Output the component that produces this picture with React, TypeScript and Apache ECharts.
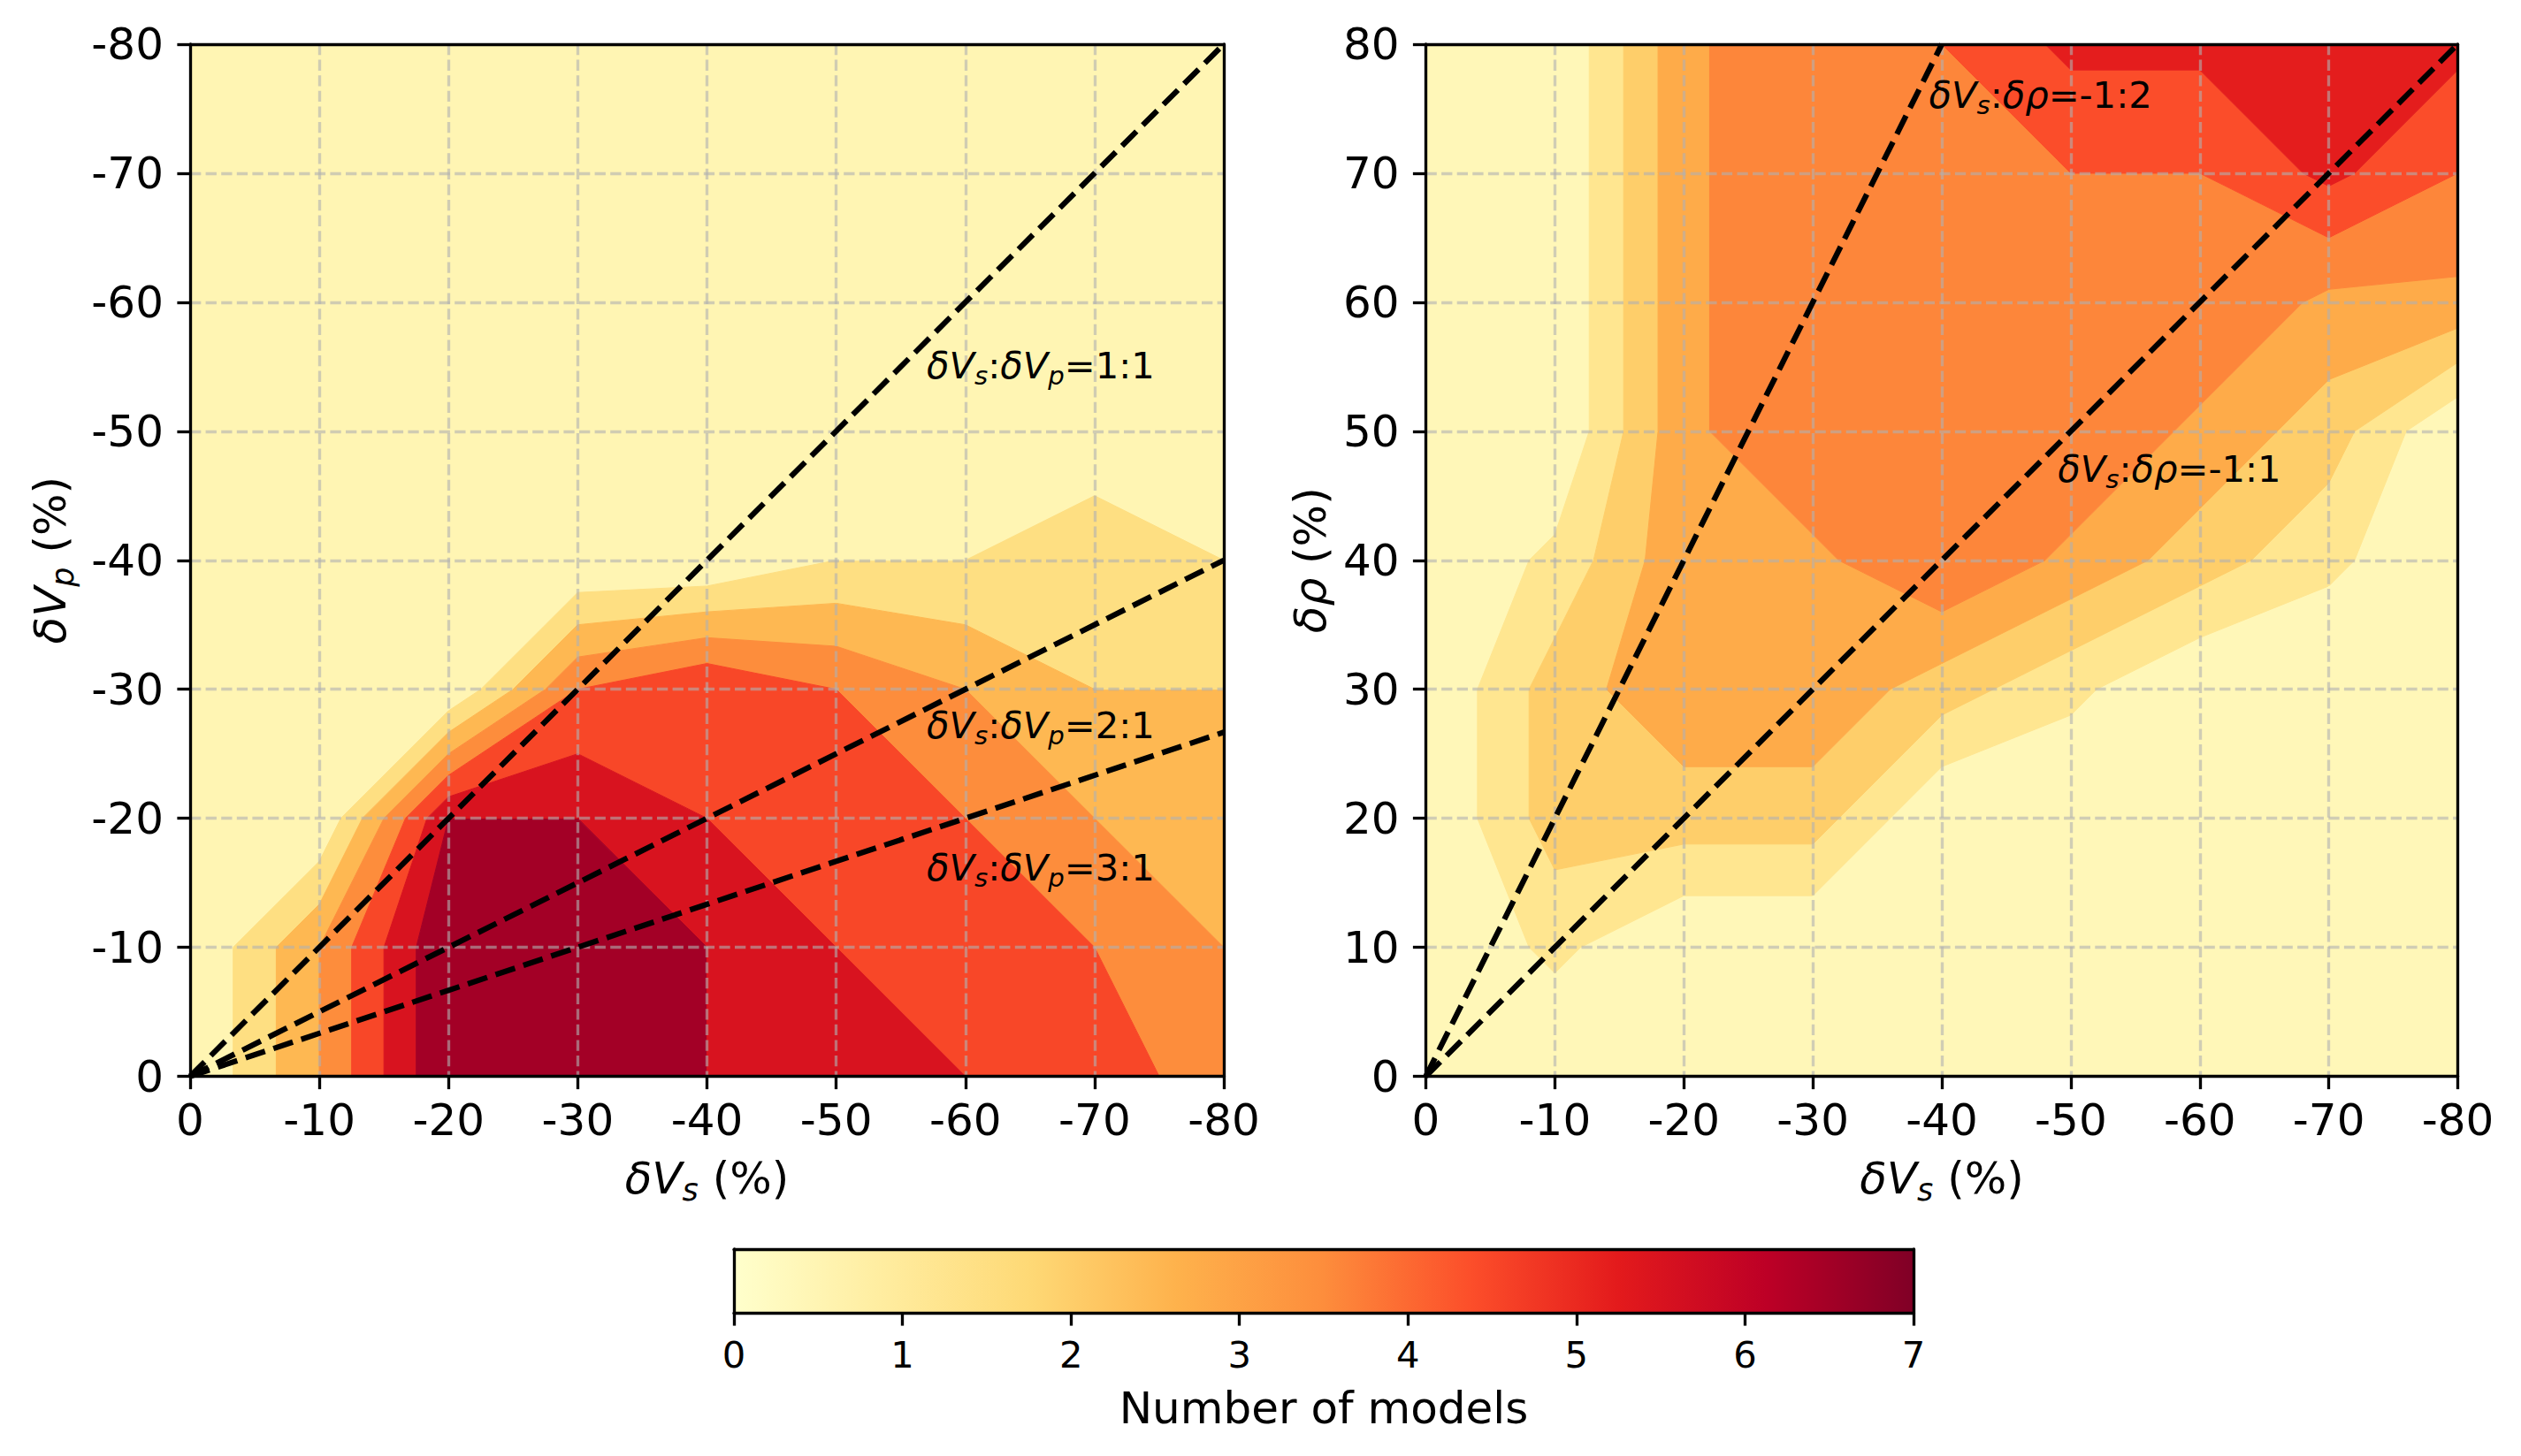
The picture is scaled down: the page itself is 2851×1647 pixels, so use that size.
import { useEffect, useRef } from 'react';
import * as echarts from 'echarts';

// ---------------- data ----------------
const X_GRID = [0, -10, -20, -30, -40, -50, -60, -70, -80];
const LEFT_Y_GRID = [0, -10, -20, -30, -40, -50, -60, -70, -80];
// rows follow LEFT_Y_GRID, columns follow X_GRID (number of models)
const LEFT_Z = [
  [0, 3, 7, 7, 6, 6, 5, 5, 3],
  [0, 3, 7, 7, 6, 5, 5, 4, 3],
  [0, 0, 6, 6, 5, 5, 4, 3, 3],
  [0, 0, 0, 4, 5, 4, 3, 2, 2],
  [0, 0, 0, 0, 0, 1, 1, 2, 1],
  [0, 0, 0, 0, 0, 0, 0, 0, 0],
  [0, 0, 0, 0, 0, 0, 0, 0, 0],
  [0, 0, 0, 0, 0, 0, 0, 0, 0],
  [0, 0, 0, 0, 0, 0, 0, 0, 0],
];
const RIGHT_Y_GRID = [0, 10, 20, 30, 40, 50, 60, 70, 80];
const RIGHT_Z = [
  [0, 0, 0, 0, 0, 0, 0, 0, 0],
  [0, 1, 0, 0, 0, 0, 0, 0, 0],
  [0, 2, 2, 2, 0, 0, 0, 0, 0],
  [0, 2, 3, 3, 2, 1, 0, 0, 0],
  [0, 1, 3, 3, 4, 3, 2, 1, 0],
  [0, 0, 3, 4, 4, 4, 3, 2, 0],
  [0, 0, 3, 4, 4, 4, 4, 3, 3],
  [0, 0, 3, 4, 4, 4, 4, 5, 4],
  [0, 0, 3, 4, 4, 5, 5, 5, 5],
];
const LEFT_LEVELS = [0, 1, 2, 3, 4, 5, 6, 7];
const RIGHT_LEVELS = [0, 0.8, 1.6, 2.4, 3.2, 4.0, 4.8, 5.6];
const CBAR_MIN = 0;
const CBAR_MAX = 7;

// reference lines (from origin to end point)
const LEFT_LINE_ENDS = [[-80, -80], [-80, -40], [-80, -26.667]];
const RIGHT_LINE_ENDS = [[-80, 80], [-40, 80]];

// annotations: anchor (left, baseline) in data coords
const LEFT_ANNOT_POS = [[-57, -54.1], [-57, -26.2], [-57, -15.2]];
const LEFT_ANNOT_RATIO = ['1:1', '2:1', '3:1'];
const RIGHT_ANNOT_POS = [[-39, 75.1], [-49, 46.1]];
const RIGHT_ANNOT_RATIO = ['-1:2', '-1:1'];

// ---------------- styling ----------------
const FONT = 'DejaVu Sans';
const LW = 3.33;
const TICK_LEN = 14.6;
const TICK_FS = 50;
const CBAR_TICK_FS = 41.7;
const LABEL_FS = 50;
const ANNOT_FS = 41.7;
const GRID_COLOR = 'rgba(176,176,176,0.6)';
const YLORRD = ['#ffffcc', '#ffeda0', '#fed976', '#feb24c', '#fd8d3c', '#fc4e2a', '#e31a1c', '#bd0026', '#800026'];

const LEFT_BOX = { left: 215, top: 50, width: 1169, height: 1167.5 };
const RIGHT_BOX = { left: 1612.5, top: 50, width: 1167, height: 1167.5 };
const CBAR_BOX = { left: 830, top: 1413, width: 1334, height: 72 };

function hexToRgb(h: string) {
  return [parseInt(h.slice(1, 3), 16), parseInt(h.slice(3, 5), 16), parseInt(h.slice(5, 7), 16)];
}
function cmap(t: number) {
  const tt = Math.max(0, Math.min(1, t)) * (YLORRD.length - 1);
  const i = Math.min(YLORRD.length - 2, Math.floor(tt));
  const f = tt - i;
  const a = hexToRgb(YLORRD[i]);
  const b = hexToRgb(YLORRD[i + 1]);
  const c = a.map((v, k) => Math.round(v + (b[k] - v) * f));
  return `rgb(${c[0]},${c[1]},${c[2]})`;
}

type P3 = [number, number, number];
function clip(poly: P3[], level: number, keepAbove: boolean): P3[] {
  const out: P3[] = [];
  const n = poly.length;
  const inside = (p: P3) => (keepAbove ? p[2] > level : p[2] <= level);
  for (let i = 0; i < n; i++) {
    const a = poly[i];
    const b = poly[(i + 1) % n];
    const ia = inside(a);
    const ib = inside(b);
    if (ia) out.push(a);
    if (ia !== ib) {
      const t = (level - a[2]) / (b[2] - a[2]);
      out.push([a[0] + t * (b[0] - a[0]), a[1] + t * (b[1] - a[1]), level]);
    }
  }
  return out;
}
function area(p: P3[]) {
  let s = 0;
  for (let i = 0; i < p.length; i++) {
    const a = p[i];
    const b = p[(i + 1) % p.length];
    s += a[0] * b[1] - b[0] * a[1];
  }
  return Math.abs(s / 2);
}
function buildBands(xs: number[], ys: number[], z: number[][], levels: number[]) {
  const colors = levels.slice(0, -1).map((l, k) => cmap((l + levels[k + 1]) / 2 / (CBAR_MAX - CBAR_MIN)));
  const polys: { pts: number[][]; color: string }[] = [];
  for (let j = 0; j < ys.length - 1; j++) {
    for (let i = 0; i < xs.length - 1; i++) {
      const quad: P3[] = [
        [xs[i], ys[j], z[j][i]],
        [xs[i + 1], ys[j], z[j][i + 1]],
        [xs[i + 1], ys[j + 1], z[j + 1][i + 1]],
        [xs[i], ys[j + 1], z[j + 1][i]],
      ];
      for (let k = 0; k < levels.length - 1; k++) {
        let p = quad;
        if (k > 0) p = clip(p, levels[k], true);
        if (p.length >= 3) p = clip(p, levels[k + 1], false);
        if (p.length >= 3 && area(p) > 1e-6) {
          polys.push({ pts: p.map((q) => [q[0], q[1]]), color: colors[k] });
        }
      }
    }
  }
  return polys;
}

function rich(f: number) {
  const H = 1.25 * f;
  const base = { fontFamily: FONT, fill: '#000' };
  return {
    i: { ...base, fontSize: f, fontStyle: 'italic', lineHeight: H, height: H, verticalAlign: 'top' },
    n: { ...base, fontSize: f, lineHeight: H, height: H, verticalAlign: 'top' },
    s: {
      ...base,
      fontSize: 0.7 * f,
      fontStyle: 'italic',
      lineHeight: 0.7 * f,
      height: 0.7 * f,
      padding: [0.549 * f, 0, 0, 0],
      verticalAlign: 'top',
    },
  };
}

function mainAxis(gridIndex: number, min: number, max: number, inverse: boolean, isY: boolean) {
  return {
    type: 'value',
    gridIndex,
    min,
    max,
    interval: 10,
    inverse,
    position: isY ? 'left' : 'bottom',
    z: 5,
    axisLine: { show: true, onZero: false, lineStyle: { color: '#000', width: LW } },
    axisTick: { show: true, inside: false, length: TICK_LEN, lineStyle: { color: '#000', width: LW } },
    axisLabel: { show: true, margin: isY ? 30 : 24.5, fontSize: TICK_FS, fontFamily: FONT, color: '#000' },
    splitLine: {
      show: true,
      showMinLine: false,
      showMaxLine: false,
      lineStyle: { color: GRID_COLOR, width: LW, type: [12.3, 5.3] },
    },
  };
}
function frameAxis(gridIndex: number, min: number, max: number, isY: boolean) {
  return {
    type: 'value',
    gridIndex,
    min,
    max,
    position: isY ? 'right' : 'top',
    z: 5,
    axisLine: { show: true, onZero: false, lineStyle: { color: '#000', width: LW } },
    axisTick: { show: false },
    axisLabel: { show: false },
    splitLine: { show: false },
  };
}

function buildOption() {
  const leftPolys = buildBands(X_GRID, LEFT_Y_GRID, LEFT_Z, LEFT_LEVELS);
  const rightPolys = buildBands(X_GRID, RIGHT_Y_GRID, RIGHT_Z, RIGHT_LEVELS);

  const contourSeries = (polys: { pts: number[][]; color: string }[], axisIdx: number) => ({
    type: 'custom',
    coordinateSystem: 'cartesian2d',
    xAxisIndex: axisIdx,
    yAxisIndex: axisIdx,
    z: 1,
    silent: true,
    data: polys.map((p) => [p.pts[0][0], p.pts[0][1]]),
    renderItem: (params: any, api: any) => {
      const p = polys[params.dataIndex];
      return {
        type: 'polygon',
        shape: { points: p.pts.map((q) => api.coord(q)) },
        style: { fill: p.color, stroke: p.color, lineWidth: 1 },
      };
    },
  });

  const lineSeries = (end: number[], axisIdx: number) => ({
    type: 'line',
    xAxisIndex: axisIdx,
    yAxisIndex: axisIdx,
    data: [[0, 0], end],
    symbol: 'none',
    showSymbol: false,
    silent: true,
    z: 10,
    lineStyle: { color: '#000', width: 6.25, type: [23.1, 10], cap: 'butt' },
  });

  const annotSeries = (pos: number[][], texts: string[], axisIdx: number) => ({
    type: 'custom',
    coordinateSystem: 'cartesian2d',
    xAxisIndex: axisIdx,
    yAxisIndex: axisIdx,
    z: 11,
    silent: true,
    data: pos,
    renderItem: (params: any, api: any) => {
      const pt = api.coord([api.value(0), api.value(1)]);
      return {
        type: 'text',
        x: pt[0],
        y: pt[1] - 0.971 * ANNOT_FS,
        style: {
          text: texts[params.dataIndex],
          rich: rich(ANNOT_FS),
          fontFamily: FONT,
          fontSize: ANNOT_FS,
          fill: '#000',
          align: 'left',
          verticalAlign: 'top',
        },
      };
    },
  });

  const leftTexts = LEFT_ANNOT_RATIO.map((r) => `{i|δV}{s|s}{n|:}{i|δV}{s|p}{n|=${r}}`);
  const rightTexts = RIGHT_ANNOT_RATIO.map((r) => `{i|δV}{s|s}{n|:}{i|δρ}{n|=${r}}`);

  const cbarSeries = {
    type: 'custom',
    coordinateSystem: 'cartesian2d',
    xAxisIndex: 4,
    yAxisIndex: 4,
    z: 1,
    silent: true,
    data: [[CBAR_MIN, 0]],
    renderItem: (_params: any, api: any) => {
      const p0 = api.coord([CBAR_MIN, 0]);
      const p1 = api.coord([CBAR_MAX, 1]);
      return {
        type: 'rect',
        shape: { x: p0[0], y: p1[1], width: p1[0] - p0[0], height: p0[1] - p1[1] },
        style: {
          fill: new echarts.graphic.LinearGradient(
            0,
            0,
            1,
            0,
            YLORRD.map((c, i) => ({ offset: i / (YLORRD.length - 1), color: c }))
          ),
        },
      };
    },
  };

  const labelText = (x: number, y: number, text: string, rotation = 0) => ({
    type: 'text',
    x,
    y,
    rotation,
    z: 50,
    silent: true,
    style: {
      text,
      rich: rich(LABEL_FS),
      fontFamily: FONT,
      fontSize: LABEL_FS,
      fill: '#000',
      align: 'center',
      verticalAlign: 'middle',
    },
  });

  const gridCommon = { containLabel: false, outerBoundsMode: 'none', show: false };

  return {
    animation: false,
    backgroundColor: '#ffffff',
    grid: [
      { ...gridCommon, ...LEFT_BOX },
      { ...gridCommon, ...RIGHT_BOX },
      { ...gridCommon, ...CBAR_BOX },
    ],
    xAxis: [
      mainAxis(0, -80, 0, true, false),
      { ...frameAxis(0, -80, 0, false), inverse: true },
      mainAxis(1, -80, 0, true, false),
      { ...frameAxis(1, -80, 0, false), inverse: true },
      {
        type: 'value',
        gridIndex: 2,
        min: CBAR_MIN,
        max: CBAR_MAX,
        interval: 1,
        position: 'bottom',
        z: 5,
        axisLine: { show: true, onZero: false, lineStyle: { color: '#000', width: LW } },
        axisTick: { show: true, inside: false, length: TICK_LEN, lineStyle: { color: '#000', width: LW } },
        axisLabel: { show: true, margin: 26, fontSize: CBAR_TICK_FS, fontFamily: FONT, color: '#000' },
        splitLine: { show: false },
      },
      frameAxis(2, CBAR_MIN, CBAR_MAX, false),
    ],
    yAxis: [
      mainAxis(0, -80, 0, true, true),
      { ...frameAxis(0, -80, 0, true), inverse: true },
      mainAxis(1, 0, 80, false, true),
      frameAxis(1, 0, 80, true),
      { ...frameAxis(2, 0, 1, true), position: 'left' },
      frameAxis(2, 0, 1, true),
    ],
    graphic: [
      labelText(LEFT_BOX.left + LEFT_BOX.width / 2, 1332.7, '{i|δV}{s|s}{n| (%)}'),
      labelText(RIGHT_BOX.left + RIGHT_BOX.width / 2, 1332.7, '{i|δV}{s|s}{n| (%)}'),
      labelText(57, LEFT_BOX.top + LEFT_BOX.height / 2, '{i|δV}{s|p}{n| (%)}', Math.PI / 2),
      labelText(1482, RIGHT_BOX.top + RIGHT_BOX.height / 2, '{i|δρ}{n| (%)}', Math.PI / 2),
      {
        type: 'text',
        x: CBAR_BOX.left + CBAR_BOX.width / 2,
        y: 1592.7,
        z: 50,
        silent: true,
        style: {
          text: 'Number of models',
          fontFamily: FONT,
          fontSize: LABEL_FS,
          fill: '#000',
          align: 'center',
          verticalAlign: 'middle',
        },
      },
    ],
    series: [
      contourSeries(leftPolys, 0),
      ...LEFT_LINE_ENDS.map((e) => lineSeries(e, 0)),
      annotSeries(LEFT_ANNOT_POS, leftTexts, 0),
      contourSeries(rightPolys, 2),
      ...RIGHT_LINE_ENDS.map((e) => lineSeries(e, 2)),
      annotSeries(RIGHT_ANNOT_POS, rightTexts, 2),
      cbarSeries,
    ],
  };
}

export default function App() {
  const ref = useRef<HTMLDivElement>(null);
  useEffect(() => {
    if (!ref.current) return;
    const chart = echarts.init(ref.current, undefined, { renderer: 'svg' });
    chart.setOption(buildOption() as any);
    return () => chart.dispose();
  }, []);
  return (
    <div
      ref={ref}
      style={{ position: 'absolute', left: 0, top: 0, width: 2851, height: 1647, background: '#fff' }}
    />
  );
}
